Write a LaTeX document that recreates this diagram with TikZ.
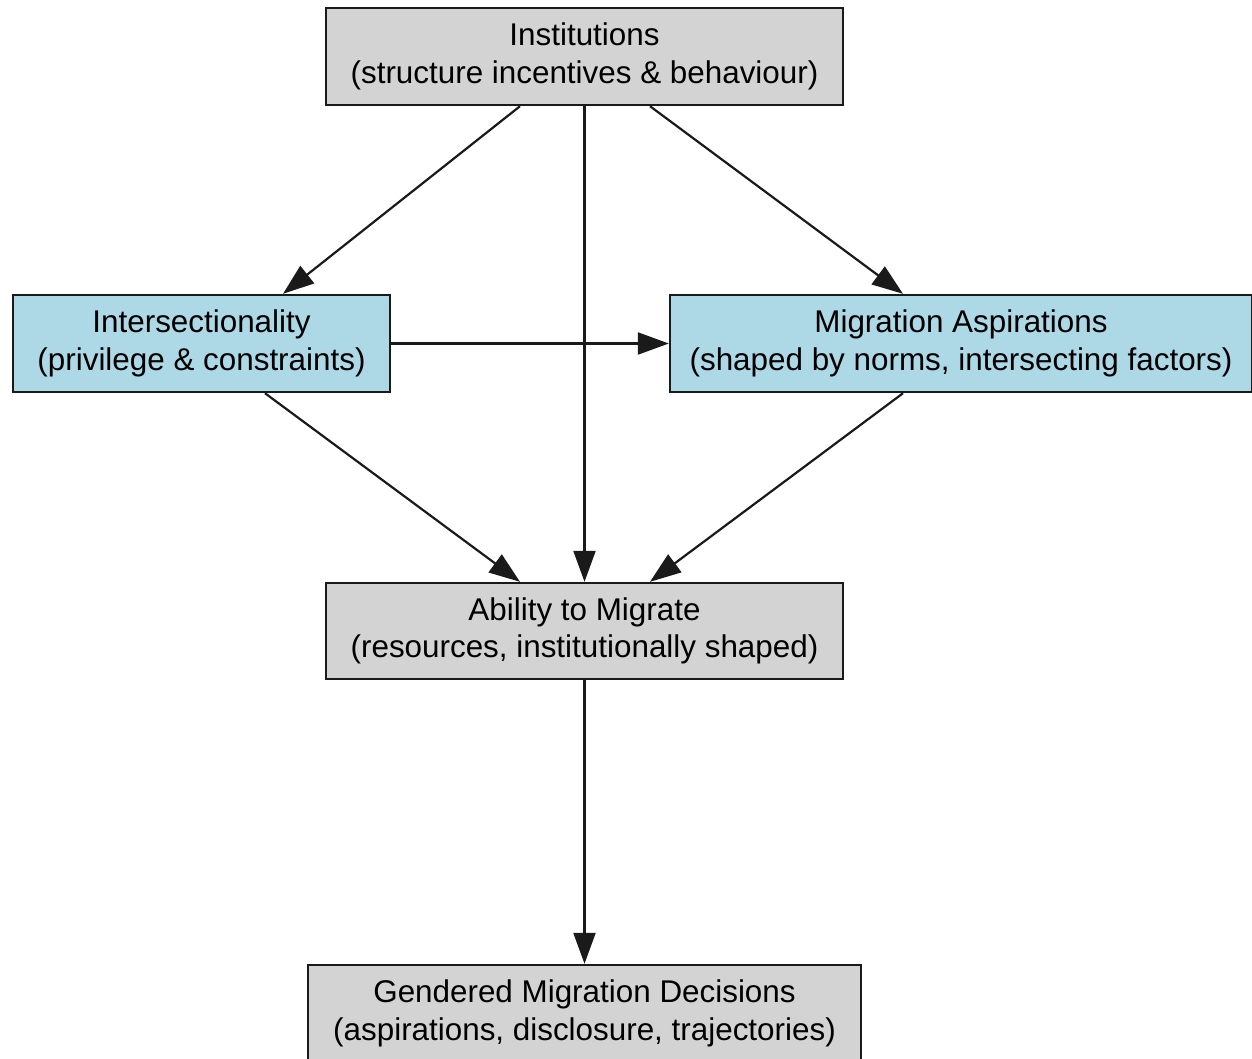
\documentclass[tikz,border=0pt]{standalone}
\usepackage{fontspec}
\setmainfont{Liberation Sans}
\usetikzlibrary{arrows.meta}
\definecolor{boxgray}{HTML}{D3D3D3}
\definecolor{boxblue}{HTML}{ADD8E6}
\definecolor{edgecol}{HTML}{1A1A1A}
\begin{document}
\begin{tikzpicture}[x=1pt,y=-1pt,
  box/.style={draw=edgecol,line width=2.4pt,align=center,inner sep=0pt,
    font=\fontsize{31.4}{37.5}\selectfont,text=black},
  graybox/.style={box,fill=boxgray},
  bluebox/.style={box,fill=boxblue},
  conn/.style={draw=edgecol,line width=2.2pt,-{Triangle[length=31pt,width=22pt]}}]
\useasboundingbox (0,0) rectangle (1252,1058);
\clip (0,0) rectangle (1252,1058);
\fill[white] (0,0) rectangle (1252,1058);
\node[graybox,minimum width=517pt,minimum height=97pt] (inst) at (584.5,56.5)
  {Institutions\\(structure incentives \& behaviour)};
\node[bluebox,minimum width=377pt,minimum height=97pt] (inter) at (201.5,343.5)
  {Intersectionality\\(privilege \& constraints)};
\node[bluebox,minimum width=582pt,minimum height=97pt] (asp) at (961,343.5)
  {Migration Aspirations\\(shaped by norms, intersecting factors)};
\node[graybox,minimum width=517pt,minimum height=96pt] (abil) at (584.5,631)
  {Ability to Migrate\\(resources, institutionally shaped)};
\node[graybox,minimum width=553pt,minimum height=97pt] (dec) at (584.5,1013.5)
  {Gendered Migration Decisions\\(aspirations, disclosure, trajectories)};
\draw[conn] ([xshift=-64.5pt]inst.south) -- ([xshift=81.5pt]inter.north);
\draw[conn] (inst.south) -- (abil.north);
\draw[conn] ([xshift=65.5pt]inst.south) -- ([xshift=-58pt]asp.north);
\draw[conn] (inter.east) -- (asp.west);
\draw[conn] ([xshift=63.5pt]inter.south) -- ([xshift=-64.5pt]abil.north);
\draw[conn] ([xshift=-58pt]asp.south) -- ([xshift=65.5pt]abil.north);
\draw[conn] (abil.south) -- (dec.north);
\end{tikzpicture}
\end{document}
